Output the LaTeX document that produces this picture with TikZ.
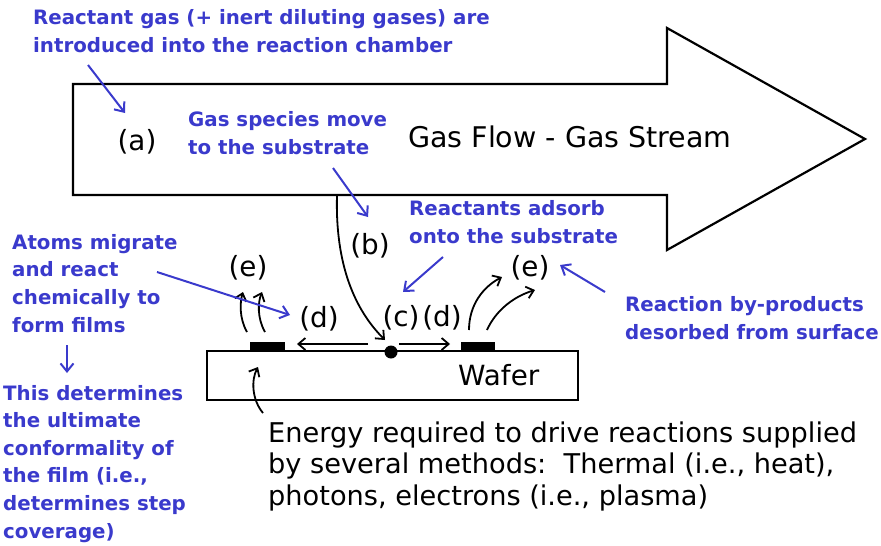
\documentclass[tikz,border=0pt]{standalone}
\usepackage{fontspec}
\setmainfont{DejaVu Sans}
\usetikzlibrary{arrows.meta}
\definecolor{myblue}{RGB}{58,58,204}
\tikzset{
  bluetxt/.style={text=myblue, font=\fontsize{19.8}{27.6}\selectfont\bfseries, align=left, inner sep=0pt, anchor=base west},
  blktxt/.style={text=black, font=\fontsize{27.8}{31.5}\selectfont, inner sep=0pt},
  lbl/.style={blktxt, anchor=center},
  blkarr/.style={draw=black, line width=1.8pt, -{Straight Barb[length=7pt,width=12pt]}},
  bluarr/.style={draw=myblue, line width=2pt, -{Straight Barb[length=8pt,width=13pt]}},
  outline/.style={draw=black, line width=2.2pt}
}
\begin{document}
\begin{tikzpicture}[x=1pt,y=-1pt]
\useasboundingbox (0,0) rectangle (881,546);
% big gas-flow arrow
\draw[outline, line join=miter] (73,84) -- (667,84) -- (667,28) -- (865,139) -- (667,250) -- (667,195) -- (73,195) -- cycle;
\coordinate (bstart) at (337,195);
% wafer
\node[outline, minimum width=371pt, minimum height=49pt, inner sep=0pt] (wafer) at (392.5,375.5) {};
\node[blktxt, anchor=base west] (wlabel) at (458,385) {Wafer};
\fill (250,342) rectangle (285,351);
\fill (461,342) rectangle (495,351);
\node[circle, fill=black, inner sep=0pt, minimum size=13pt] (dot) at (391,352) {};
% labels
\node[lbl] (la) at (137,142) {(a)};
\node[lbl] (lb) at (370,246) {(b)};
\node[lbl] (lc) at (401,318) {(c)};
\node[lbl] (ld1) at (319,319) {(d)};
\node[lbl] (ld2) at (442,318) {(d)};
\node[lbl] (le1) at (248,268) {(e)};
\node[lbl] (le2) at (530,268) {(e)};
\node[blktxt, font=\fontsize{28.5}{31.5}\selectfont, anchor=base west] (flow) at (408,147) {Gas Flow - Gas Stream};
% blue texts (anchored at the baseline of their last line)
\node[bluetxt] (t1) at (33,52) {Reactant gas (+ inert diluting gases) are\\introduced into the reaction chamber};
\node[bluetxt] (t2) at (188,154) {Gas species move\\to the substrate};
\node[bluetxt] (t3) at (409,243) {Reactants adsorb\\onto the substrate};
\node[bluetxt] (t4) at (12,332) {Atoms migrate\\and react\\chemically to\\form films};
\node[bluetxt] (t5) at (3,538) {This determines\\the ultimate\\conformality of\\the film (i.e.,\\determines step\\coverage)};
\node[bluetxt] (t6) at (625,339) {Reaction by-products\\desorbed from surface};
\node[blktxt, font=\fontsize{27.2}{31.5}\selectfont, align=left, anchor=base west] (t7) at (268,505) {Energy required to drive reactions supplied\\by several methods:\ \ Thermal (i.e., heat),\\photons, electrons (i.e., plasma)};
% coordinates for connectors
\coordinate (d1s) at (368,344); \coordinate (d1e) at (297,344);
\coordinate (d2s) at (399,344); \coordinate (d2e) at (450,344);
\coordinate (bend) at (385,340);
\coordinate (e1as) at (247,332); \coordinate (e1ae) at (243,292);
\coordinate (e1bs) at (265,332); \coordinate (e1be) at (262,292);
\coordinate (e2as) at (469,330); \coordinate (e2ae) at (502,277);
\coordinate (e2bs) at (487,330); \coordinate (e2be) at (535,290);
\coordinate (ens) at (263,413); \coordinate (ene) at (258,367);
% black connectors
\draw[blkarr] (d1s) -- (d1e);
\draw[blkarr] (d2s) -- (d2e);
\draw[blkarr] (bstart) .. controls (335,265) and (355,310) .. (bend);
\draw[blkarr] (e1as) .. controls (239,318) and (240,302) .. (e1ae);
\draw[blkarr] (e1bs) .. controls (257,318) and (258,302) .. (e1be);
\draw[blkarr] (e2as) .. controls (469,305) and (483,287) .. (e2ae);
\draw[blkarr] (e2bs) .. controls (495,312) and (512,297) .. (e2be);
\draw[blkarr] (ens) .. controls (252,400) and (251,380) .. (ene);
% blue connectors
\coordinate (b1s) at (88,65); \coordinate (b1e) at (125,113);
\coordinate (b2s) at (333,168); \coordinate (b2e) at (368,217);
\coordinate (b3s) at (443,257); \coordinate (b3e) at (403,292);
\coordinate (b4s) at (605,292); \coordinate (b4e) at (560,265);
\coordinate (b5s) at (157,272); \coordinate (b5e) at (290,315);
\coordinate (b6s) at (67,345); \coordinate (b6e) at (67,373);
\draw[bluarr] (b1s) -- (b1e);
\draw[bluarr] (b2s) -- (b2e);
\draw[bluarr] (b3s) -- (b3e);
\draw[bluarr] (b4s) -- (b4e);
\draw[bluarr] (b5s) -- (b5e);
\draw[bluarr] (b6s) -- (b6e);
\end{tikzpicture}
\end{document}
